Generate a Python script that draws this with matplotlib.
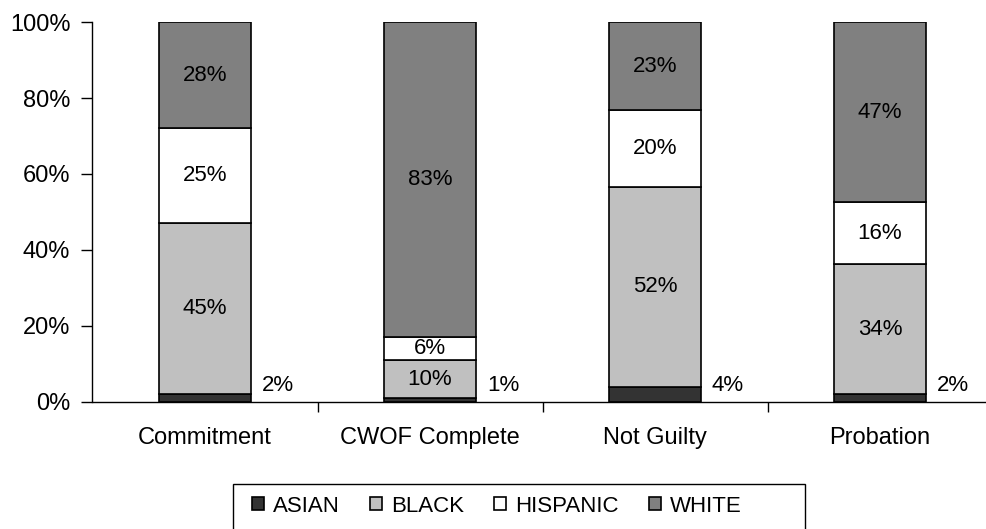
import matplotlib
matplotlib.use("Agg")
import matplotlib.pyplot as plt
from matplotlib.patches import Rectangle
import numpy as np

plt.rcParams['font.family'] = ['Liberation Sans', 'DejaVu Sans']

categories = ["Commitment", "CWOF Complete", "Not Guilty", "Probation"]
series_names = ["ASIAN", "BLACK", "HISPANIC", "WHITE"]
asian = [2, 1, 4, 2]
black = [45, 10, 52, 34]
hispanic = [25, 6, 20, 16]
white = [28, 83, 23, 47]
colors = ["#333333", "#C0C0C0", "#FFFFFF", "#808080"]
y_ticks = [0, 20, 40, 60, 80, 100]
y_tick_labels = ["0%", "20%", "40%", "60%", "80%", "100%"]

W, H = 987, 529
fig = plt.figure(figsize=(W / 100, H / 100), dpi=100)
ax = fig.add_axes([92.5 / W, (H - 402) / H, 900 / W, 380 / H])

data = np.array([asian, black, hispanic, white], dtype=float)
totals = data.sum(axis=0)
shares = data / totals * 100
x = np.arange(len(categories))
bw = 0.405
bottom = np.zeros(len(categories))
handles = []
for i, name in enumerate(series_names):
    bars = ax.bar(x, shares[i], bw, bottom=bottom, color=colors[i],
                  edgecolor="black", linewidth=1.2, label=name)
    handles.append(bars)
    for j in range(len(categories)):
        label = f"{int(data[i, j])}%"
        if i == 0:
            ax.text(x[j] + bw / 2 + 0.05, 4.4, label, ha="left", va="center",
                    fontsize=16)
        else:
            ax.text(x[j], bottom[j] + shares[i, j] / 2, label, ha="center",
                    va="center", fontsize=16)
    bottom += shares[i]

ax.set_xlim(-0.5, len(categories) - 0.5)
ax.set_ylim(0, 100)
ax.set_yticks(y_ticks)
ax.set_yticklabels(y_tick_labels, fontsize=17)
ax.set_xticks(x)
ax.set_xticklabels(categories, fontsize=17)
ax.set_xticks(x[:-1] + 0.5, minor=True)
ax.tick_params(axis="x", which="major", length=0, pad=18)
ax.tick_params(axis="x", which="minor", length=7, width=1, direction="out")
ax.tick_params(axis="y", length=8, width=1, direction="out", pad=8)
for s in ["top", "right"]:
    ax.spines[s].set_visible(False)
ax.spines["left"].set_linewidth(1)
ax.spines["bottom"].set_linewidth(1)

# legend frame
fig.patches.append(Rectangle((233 / W, 0 - 2 / H), (805 - 233) / W, (H - 484 + 2) / H,
                             transform=fig.transFigure, facecolor="none",
                             edgecolor="black", linewidth=1))
leg = fig.legend(handles=handles, labels=series_names, ncol=4,
                 loc="center left", bbox_to_anchor=(252 / W, 1 - 506 / H),
                 borderaxespad=0, frameon=False, fontsize=16,
                 handlelength=0.55, handleheight=0.55, handletextpad=0.4,
                 columnspacing=1.35, borderpad=0.0)

fig.savefig("out.png", dpi=100)
